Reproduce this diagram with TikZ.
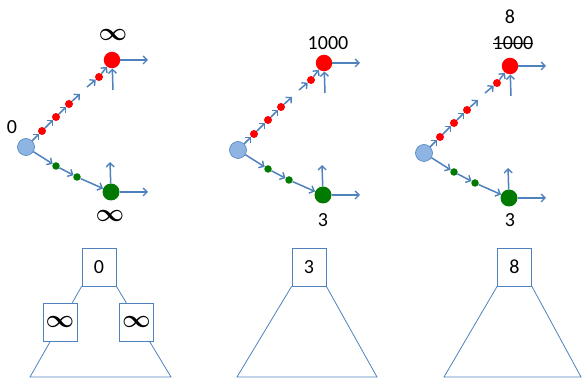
\documentclass[tikz,border=0pt]{standalone}
\usepackage{fontspec}
\setmainfont{Carlito}
\usetikzlibrary{arrows.meta}
\definecolor{ablue}{RGB}{79,129,189}
\definecolor{lblue}{RGB}{141,180,226}
\definecolor{dgreen}{RGB}{0,122,0}
\pgfdeclarelayer{bg}
\pgfsetlayers{bg,main}
\tikzset{
 conn/.style={draw=ablue, line width=1.5pt, -{Straight Barb[length=4pt,width=8pt,line width=1.4pt]}},
 bignode/.style={circle, inner sep=0pt, minimum size=16.5pt},
 rbig/.style={bignode, fill=red},
 gbig/.style={bignode, fill=dgreen, minimum size=17pt},
 bstart/.style={bignode, fill=lblue, draw=ablue, line width=0.6pt, minimum size=17pt},
 rdot/.style={circle, inner sep=0pt, minimum size=8pt, fill=red},
 gdot/.style={circle, inner sep=0pt, minimum size=7.5pt, fill=dgreen},
 lbl/.style={font=\fontsize{20}{22}\selectfont, inner sep=0pt},
 inf/.style={font=\fontsize{32}{33}\selectfont\boldmath, inner sep=0pt},
 tline/.style={draw=ablue, line width=0.8pt},
 tbox/.style={draw=ablue, fill=white, line width=0.8pt, minimum width=34pt, minimum height=38pt, inner sep=0pt, font=\fontsize{20}{22}\selectfont},
 strike/.style={draw=black, line width=0.7pt},
}
\newcommand\drawpanel[3]{%
 \begin{scope}[shift={(#2,#3)}]
  \node[bstart] (b#1) at (26,147) {};
  \node[rdot] (ra#1) at (42,131) {};
  \node[rdot] (rb#1) at (56,117) {};
  \node[rdot] (rc#1) at (69,104) {};
  \coordinate (rg#1) at (80,94);
  \coordinate (rh#1) at (87,87);
  \node[rdot] (rd#1) at (99,77) {};
  \node[rbig] (r#1) at (112,60) {};
  \coordinate (rr#1) at (148,60);
  \coordinate (ru#1) at (113,90);
  \node[gdot] (ga#1) at (56,166) {};
  \node[gdot] (gb#1) at (77,177) {};
  \node[gbig] (g#1) at (111,192) {};
  \coordinate (gr#1) at (148,192);
  \coordinate (gu#1) at (110,162);
  \draw[conn] (b#1) -- (ra#1);
  \draw[conn] (ra#1) -- (rb#1);
  \draw[conn] (rb#1) -- (rc#1);
  \draw[conn] (rc#1) -- (rg#1);
  \draw[conn] (rh#1) -- (rd#1);
  \draw[conn] (rd#1) -- (r#1);
  \draw[conn] (r#1) -- (rr#1);
  \draw[conn] (ru#1) -- (r#1);
  \draw[conn] (b#1) -- (ga#1);
  \draw[conn] (ga#1) -- (gb#1);
  \draw[conn] (gb#1) -- (g#1);
  \draw[conn] (g#1) -- (gr#1);
  \draw[conn] (g#1) -- (gu#1);
 \end{scope}}
\begin{document}
\begin{tikzpicture}[x=1pt,y=-1pt]
\useasboundingbox (0,0) rectangle (582,379);
\drawpanel{1}{0}{0}
\drawpanel{2}{212}{3}
\drawpanel{3}{398}{6}
% labels top
\node[lbl] (z1) at (12,127) {0};
\node[inf] (i1) at (113,35) {$\infty$};
\node[inf] (i2) at (110,216) {$\infty$};
\node[lbl] (k2) at (328,43) {1000};
\node[lbl] (t2) at (323,220) {3};
\node[lbl] (e3) at (510,17) {8};
\node[lbl] (k3) at (513,43) {1000};
\draw[strike] (k3.west) -- (k3.east);
\node[lbl] (t3) at (510,220) {3};
% trees
\node[tbox] (n1) at (99,267) {0};
\node[tbox, font=\fontsize{32}{33}\selectfont\boldmath] (nl1) at (60,322) {$\infty$};
\node[tbox, font=\fontsize{32}{33}\selectfont\boldmath] (nr1) at (136.5,322) {$\infty$};
\coordinate (bl1) at (30,377);
\coordinate (br1) at (171,377);
\node[tbox] (n2) at (309,267) {3};
\coordinate (bl2) at (237,377);
\coordinate (br2) at (377,377);
\node[tbox] (n3) at (514.5,267) {8};
\coordinate (bl3) at (444,377);
\coordinate (br3) at (581,377);
\begin{pgfonlayer}{bg}
\draw[tline] (n1.south west) -- (bl1) -- (br1) -- (n1.south east);
\draw[tline] (n2.south west) -- (bl2) -- (br2) -- (n2.south east);
\draw[tline] (n3.south west) -- (bl3) -- (br3) -- (n3.south east);
\end{pgfonlayer}
\end{tikzpicture}
\end{document}
